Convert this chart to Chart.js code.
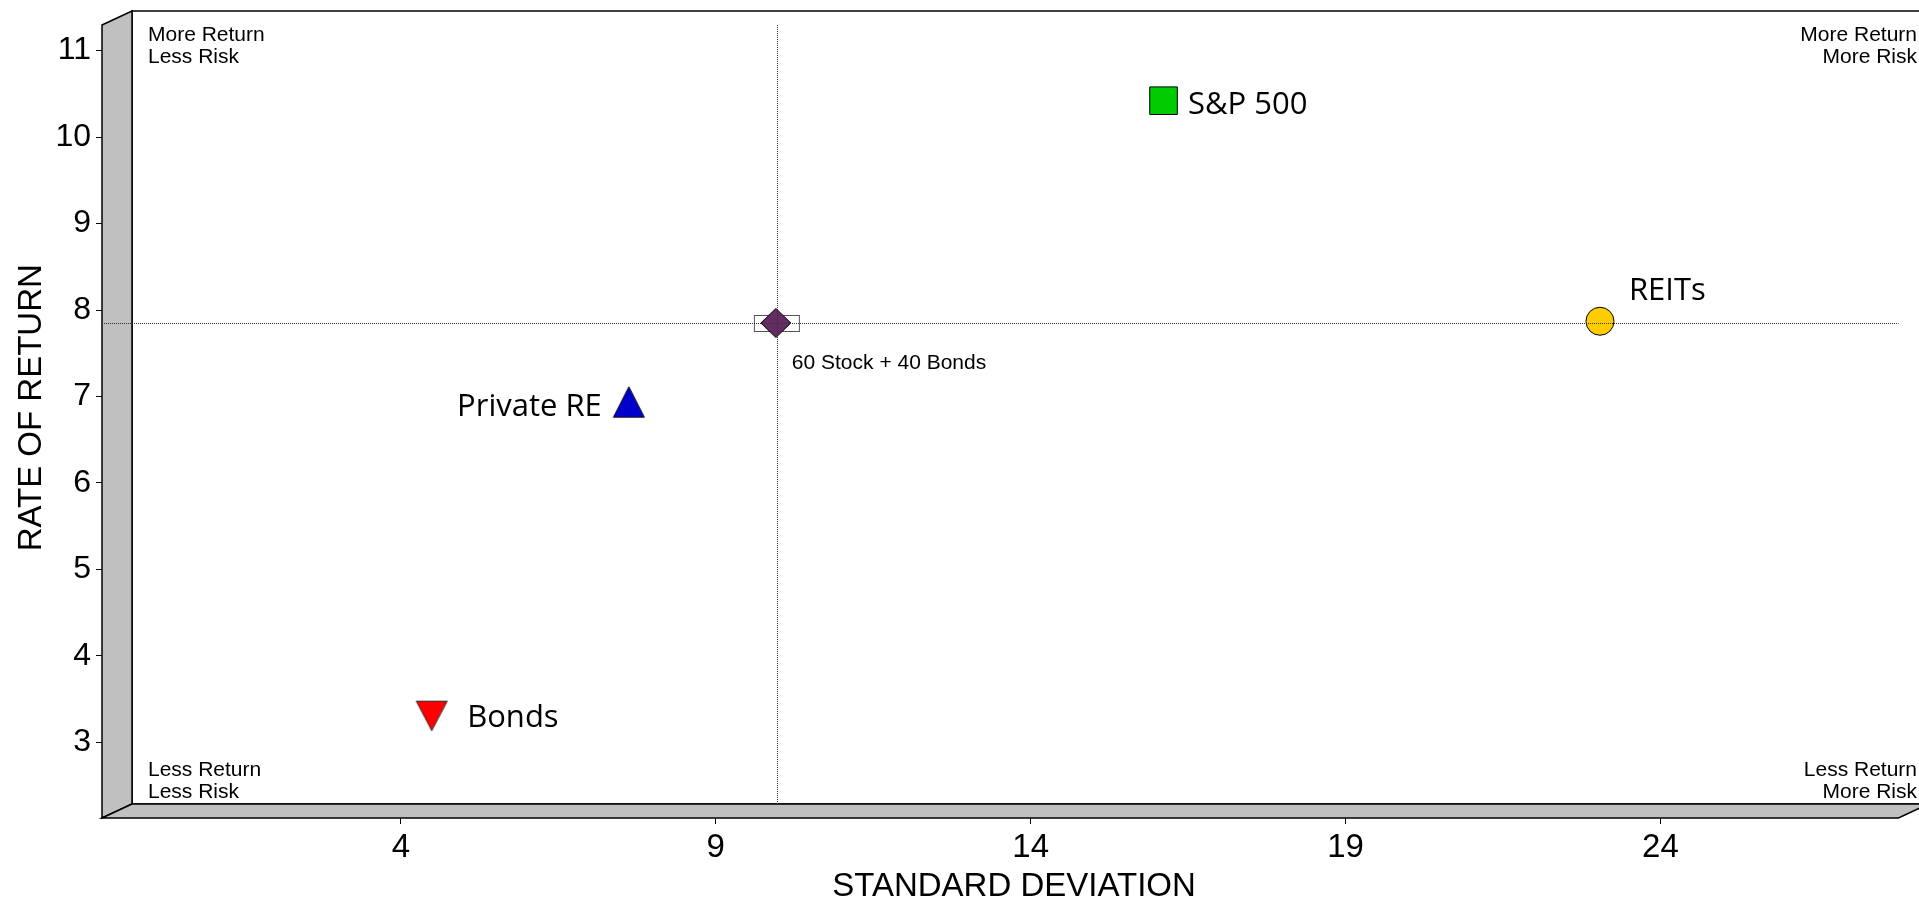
<!DOCTYPE html>
<html>
<head>
<meta charset="utf-8">
<title>Risk vs Return</title>
<script src="https://cdn.jsdelivr.net/npm/chart.js@4.4.1/dist/chart.umd.min.js"></script>
<style>
  html, body { margin: 0; padding: 0; background: #fff; }
  #wrap { width: 1919px; height: 903px; }
</style>
</head>
<body>
<div id="wrap"><canvas id="riskReturn" width="1919" height="903"></canvas></div>
<script>
var assetNames = ['S&P 500', 'REITs', '60 Stock + 40 Bonds', 'Private RE', 'Bonds'];
var stdDeviation = [16.11, 23.04, 9.97, 7.62, 4.49];
var rateOfReturn = [10.42, 7.87, 7.85, 6.94, 3.31];
var assetColors = ['#00cc00', '#ffcc00', '#632c63', '#0000cc', '#ff0000'];
var xTickValues = [4, 9, 14, 19, 24];
var yTickValues = [3, 4, 5, 6, 7, 8, 9, 10, 11];
var quadrantNotes = [['More Return', 'Less Risk'], ['More Return', 'More Risk'],
                     ['Less Return', 'Less Risk'], ['Less Return', 'More Risk']];
var crossIndex = 2; // crosshair runs through the 60/40 mix

// depth of the fake 3d walls
var DX = 30, DY = 14;

Chart.defaults.font.family = "'Liberation Sans', Arial, sans-serif";
Chart.defaults.color = '#000';

// little canvases for the markers chart.js has no shape for
function marker(w, h, draw) {
    var c = document.createElement('canvas');
    c.width = w; c.height = h;
    draw(c.getContext('2d'));
    return c;
}
var triUp = marker(34, 34, function (g) {
    g.beginPath(); g.moveTo(17, 2); g.lineTo(32.5, 32.5); g.lineTo(1.5, 32.5); g.closePath();
    g.fillStyle = assetColors[3]; g.fill(); g.strokeStyle = '#111'; g.lineWidth = 1; g.stroke();
});
var triDown = marker(34, 32, function (g) {
    g.beginPath(); g.moveTo(1.5, 1.5); g.lineTo(32.5, 1.5); g.lineTo(17, 31); g.closePath();
    g.fillStyle = assetColors[4]; g.fill(); g.strokeStyle = '#333'; g.lineWidth = 1; g.stroke();
});
var diamondBox = marker(50, 34, function (g) {
    g.strokeStyle = '#555'; g.lineWidth = 1;
    g.fillStyle = '#fff';
    g.fillRect(2.5, 9.5, 45, 16); g.strokeRect(2.5, 9.5, 45, 16);
    g.beginPath(); g.moveTo(24, 2.5); g.lineTo(39, 17); g.lineTo(24, 31.5); g.lineTo(9, 17); g.closePath();
    g.fillStyle = assetColors[2]; g.fill(); g.strokeStyle = '#000'; g.stroke();
});
var markerStyles = ['rect', 'circle', diamondBox, triUp, triDown];
var markerRadius = [19.5, 14, 15, 15, 15];

// label placement next to each marker: [dx, dy, align, font]
var bigFont = "31px 'Open Sans', sans-serif";
var labelSpots = [
    [24.5, 13.3, 'left', bigFont],
    [29, -21.7, 'left', bigFont],
    [15, 45.6, 'left', "21px 'Liberation Sans', Arial, sans-serif"],
    [-27, 14.4, 'right', bigFont],
    [35.5, 11, 'left', bigFont]
];

var frame3d = {
    id: 'frame3d',
    beforeDatasetsDraw: function (chart) {
        var ctx = chart.ctx, a = chart.chartArea;
        var L = a.left, R = a.right, T = a.top, B = a.bottom;
        ctx.save();
        ctx.lineWidth = 1.5;
        ctx.strokeStyle = '#000';
        // back wall
        ctx.fillStyle = '#fff';
        ctx.fillRect(L + DX, T - DY, R - L, B - T);
        ctx.strokeRect(L + DX, T - DY, R - L, B - T);
        ctx.fillStyle = '#c0c0c0';
        [[[L, T], [L + DX, T - DY], [L + DX, B - DY], [L, B]],
         [[L, B], [L + DX, B - DY], [R + DX, B - DY], [R, B]]].forEach(function (p) {
            ctx.beginPath();
            ctx.moveTo(p[0][0], p[0][1]);
            for (var i = 1; i < p.length; i++) ctx.lineTo(p[i][0], p[i][1]);
            ctx.closePath();
            ctx.fill();
            ctx.stroke();
        });
        // quadrant notes
        ctx.font = "21px 'Liberation Sans', Arial, sans-serif";
        ctx.fillStyle = '#000';
        ctx.textBaseline = 'alphabetic';
        var leftX = L + DX + 16, rightX = chart.width - 2;
        var topY = T - DY + 30, botY = B - DY - 28;
        var spots = [[leftX, topY, 'left'], [rightX, topY, 'right'], [leftX, botY, 'left'], [rightX, botY, 'right']];
        quadrantNotes.forEach(function (lines, q) {
            ctx.textAlign = spots[q][2];
            lines.forEach(function (t, k) {
                ctx.fillText(t, spots[q][0], spots[q][1] + k * 21.5);
            });
        });
        ctx.restore();
    },
    afterDatasetsDraw: function (chart) {
        var ctx = chart.ctx, a = chart.chartArea;
        var xs = chart.scales.x, ys = chart.scales.y;
        var cx = Math.round(xs.getPixelForValue(stdDeviation[crossIndex])) + 0.5;
        var cy = Math.round(ys.getPixelForValue(rateOfReturn[crossIndex])) + 0.5;
        ctx.save();
        ctx.strokeStyle = '#333';
        ctx.lineWidth = 1;
        ctx.setLineDash([1, 1]);
        ctx.beginPath();
        ctx.moveTo(a.left, cy); ctx.lineTo(a.right, cy);
        ctx.moveTo(cx, a.top); ctx.lineTo(cx, a.bottom - DY);
        ctx.stroke();
        ctx.setLineDash([]);
        // asset names
        var pts = chart.getDatasetMeta(0).data;
        ctx.fillStyle = '#000';
        ctx.textBaseline = 'alphabetic';
        assetNames.forEach(function (name, i) {
            var s = labelSpots[i];
            ctx.font = s[3];
            ctx.textAlign = s[2];
            ctx.fillText(name, pts[i].x + s[0], pts[i].y + s[1]);
        });
        ctx.restore();
    }
};

var ctx = document.getElementById('riskReturn').getContext('2d');
var riskChart = new Chart(ctx, {
    type: 'scatter',
    data: {
        datasets: [{
            data: stdDeviation.map(function (v, i) { return { x: v, y: rateOfReturn[i] }; }),
            backgroundColor: assetColors,
            borderColor: '#000',
            borderWidth: 1,
            pointStyle: function (c) { return markerStyles[c.dataIndex]; },
            pointRadius: function (c) { return markerRadius[c.dataIndex]; },
            pointHoverRadius: function (c) { return markerRadius[c.dataIndex]; }
        }]
    },
    options: {
        responsive: false,
        animation: false,
        devicePixelRatio: 1,
        layout: { padding: { left: 0, top: 25, right: 17, bottom: 0 } },
        plugins: { legend: { display: false }, tooltip: { enabled: false } },
        scales: {
            x: {
                type: 'linear',
                min: -0.745,
                max: 27.78,
                afterBuildTicks: function (s) { s.ticks = xTickValues.map(function (v) { return { value: v }; }); },
                afterFit: function (s) { s.height = 85; },
                grid: { drawOnChartArea: false, drawTicks: true, tickLength: 6, color: '#000', lineWidth: 1 },
                border: { display: false },
                ticks: { font: { size: 33 }, padding: 4, maxRotation: 0, autoSkip: false },
                title: {
                    display: true,
                    text: '\u00a0\u00a0\u00a0STANDARD DEVIATION',
                    font: { size: 33, lineHeight: 1 },
                    padding: { top: 0, bottom: 0 }
                }
            },
            y: {
                type: 'linear',
                min: 2.127,
                max: 11.295,
                afterBuildTicks: function (s) { s.ticks = yTickValues.map(function (v) { return { value: v }; }); },
                afterFit: function (s) { s.width = 102; },
                grid: { drawOnChartArea: false, drawTicks: true, tickLength: 6, color: '#000', lineWidth: 1 },
                border: { display: false },
                ticks: { font: { size: 32 }, padding: 5, autoSkip: false },
                title: {
                    display: true,
                    text: '\u00a0\u00a0\u00a0RATE OF RETURN',
                    font: { size: 33, lineHeight: 1 },
                    padding: { top: 15, bottom: 0 }
                }
            }
        }
    },
    plugins: [frame3d]
});
</script>
</body>
</html>
